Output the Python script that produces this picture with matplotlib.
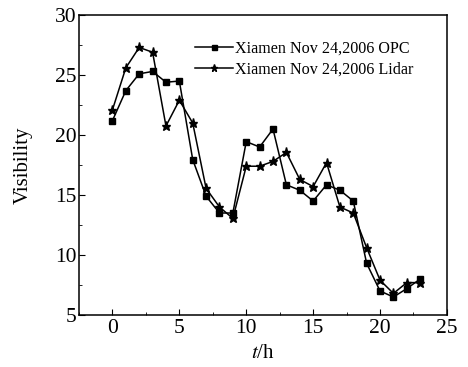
import matplotlib
matplotlib.use('Agg')
import matplotlib.pyplot as plt
from matplotlib.ticker import MultipleLocator

plt.rcParams['font.family'] = ['Liberation Serif', 'DejaVu Serif']
plt.rcParams['mathtext.fontset'] = 'stix'

hours = list(range(24))
opc = [21.2, 23.7, 25.1, 25.3, 24.4, 24.5, 17.95, 14.9, 13.5, 13.5, 19.45, 19.0,
       20.5, 15.85, 15.4, 14.5, 15.85, 15.4, 14.5, 9.3, 7.0, 6.5, 7.2, 8.0]
lidar = [22.1, 25.6, 27.3, 26.9, 20.75, 22.9, 21.0, 15.55, 14.0, 13.05, 17.4, 17.4,
         17.8, 18.55, 16.3, 15.7, 17.7, 14.0, 13.5, 10.6, 7.9, 6.8, 7.7, 7.7]
labels = ['Xiamen Nov 24,2006 OPC', 'Xiamen Nov 24,2006 Lidar']

fig = plt.figure(figsize=(4.68, 3.67), dpi=100)
ax = fig.add_axes([0.1688, 0.1417, 0.7862, 0.8173])

ax.plot(hours, opc, color='black', marker='s', markersize=4.5, linewidth=1.1, label=labels[0])
ax.plot(hours, lidar, color='black', marker='*', markersize=6.5, linewidth=1.1, label=labels[1])

ax.set_xlim(-2.5, 25)
ax.set_ylim(5, 30)
ax.xaxis.set_major_locator(MultipleLocator(5))
ax.xaxis.set_minor_locator(MultipleLocator(2.5))
ax.yaxis.set_major_locator(MultipleLocator(5))
ax.yaxis.set_minor_locator(MultipleLocator(2.5))
ax.tick_params(which='both', direction='in', labelsize=15.5)
ax.tick_params(which='major', length=4)
ax.tick_params(which='minor', length=2)
ax.tick_params(axis='x', pad=3)
ax.tick_params(axis='y', pad=2)
for s in ax.spines.values():
    s.set_linewidth(1.1)

ax.set_xlabel('$t$/h', fontsize=15)
ax.set_ylabel('Visibility', fontsize=15, labelpad=16)

ax.legend(loc='upper left', frameon=False, fontsize=11.6, handlelength=2.36,
          handletextpad=0.12, borderpad=0, borderaxespad=0, labelspacing=0.34,
          markerscale=0.8, bbox_to_anchor=(0.315, 0.915))

fig.savefig('out.png', dpi=100)
